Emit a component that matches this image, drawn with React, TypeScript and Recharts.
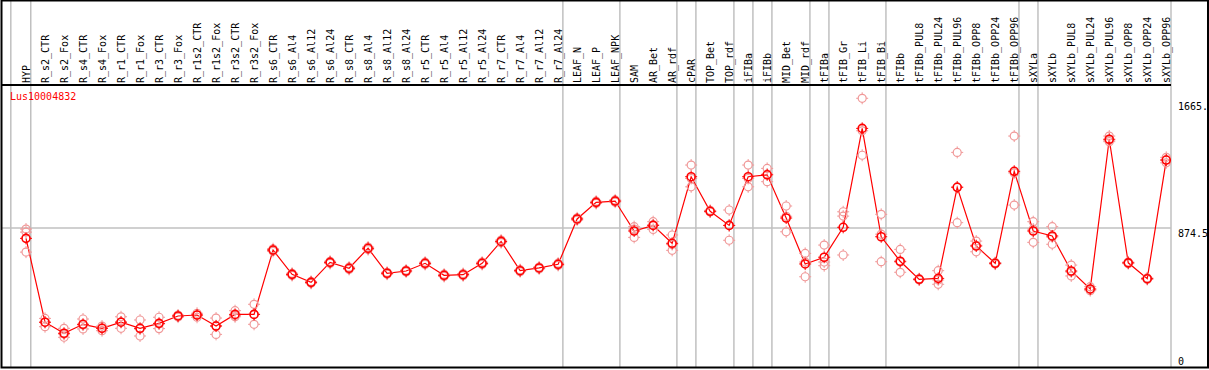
import React from 'react';
import { ComposedChart, Line, XAxis, YAxis, ReferenceLine } from 'recharts';

// sample labels, left to right
const samples = [
  'HYP', 'R_s2_CTR', 'R_s2_Fox', 'R_s4_CTR', 'R_s4_Fox', 'R_r1_CTR', 'R_r1_Fox', 'R_r3_CTR', 'R_r3_Fox',
  'R_r1s2_CTR', 'R_r1s2_Fox', 'R_r3s2_CTR', 'R_r3s2_Fox', 'R_s6_CTR', 'R_s6_Al4', 'R_s6_Al12', 'R_s6_Al24',
  'R_s8_CTR', 'R_s8_Al4', 'R_s8_Al12', 'R_s8_Al24', 'R_r5_CTR', 'R_r5_Al4', 'R_r5_Al12', 'R_r5_Al24',
  'R_r7_CTR', 'R_r7_Al4', 'R_r7_Al12', 'R_r7_Al24', 'LEAF_N', 'LEAF_P', 'LEAF_NPK', 'SAM', 'AR_Bet', 'AR_rdf',
  'cPAR', 'TOP_Bet', 'TOP_rdf', 'iFIBa', 'iFIBb', 'MID_Bet', 'MID_rdf', 'tFIBa', 'tFIB_Gr', 'tFIB_Li', 'tFIB_Bi',
  'tFIBb', 'tFIBb_PUL8', 'tFIBb_PUL24', 'tFIBb_PUL96', 'tFIBb_OPP8', 'tFIBb_OPP24', 'tFIBb_OPP96',
  'sXYLa', 'sXYLb', 'sXYLb_PUL8', 'sXYLb_PUL24', 'sXYLb_PUL96', 'sXYLb_OPP8', 'sXYLb_OPP24', 'sXYLb_OPP96',
];

// mean expression per sample
const meanVals = [
  810, 286, 217, 273, 248, 286, 248, 279, 325, 331, 262, 335, 335,
  737, 585, 535, 660, 623, 748, 592, 606, 654, 579, 583, 654, 791, 608, 625, 648,
  931, 1035, 1043, 856, 891, 779, 1195, 979, 891, 1195, 1207, 937, 650, 692, 879, 1497, 820,
  667, 554, 560, 1129, 762, 654, 1229, 856, 825, 606, 494, 1429, 657, 558, 1299,
];

// replicates
const rep1 = [
  868, 310, 248, 306, 262, 320, 300, 317, 331, 342, 312, 358, 398,
  745, 592, 541, 667, 630, 756, 598, 612, 661, 586, 590, 661, 799, 614, 631, 655,
  938, 1042, 1050, 883, 914, 831, 1268, 985, 987, 1268, 1247, 1012, 716, 768, 976, 1685, 960,
  741, 558, 608, 1347, 793, 659, 1449, 914, 883, 643, 508, 1449, 662, 563, 1316,
];
const rep2 = [
  849, 286, 212, 269, 249, 288, 244, 275, 325, 331, 264, 328, 335,
  737, 585, 535, 660, 623, 748, 592, 606, 654, 579, 583, 654, 791, 608, 625, 648,
  931, 1035, 1043, 868, 894, 771, 1184, 977, 890, 1184, 1211, 948, 662, 662, 949, 1482, 836,
  662, 554, 550, 1131, 767, 654, 1219, 868, 818, 600, 490, 1423, 657, 558, 1300,
];
const rep3 = [
  724, 258, 192, 244, 233, 248, 200, 246, 318, 317, 210, 320, 273,
  729, 578, 529, 653, 616, 740, 586, 600, 647, 572, 576, 647, 783, 602, 619, 641,
  924, 1028, 1036, 816, 866, 735, 1132, 975, 798, 1132, 1164, 851, 570, 639, 706, 1329, 664,
  598, 550, 523, 908, 726, 649, 1018, 785, 773, 575, 483, 1414, 652, 553, 1282,
];

// group separators (in sample index units)
const separators = [-0.8, 0.25, 28.25, 31.25, 34.25, 35.25, 37.25, 38.25, 39.25, 41.25, 42.25, 45.25, 52.25, 53.25, 60.25];

const yTicks = [0, 874.5, 1665];
const yTickLabels = ['0', '874.5', '1665.'];

const geneName = 'Lus10004832';

const data = samples.map((name, i) => ({
  i,
  name,
  mean: meanVals[i],
  r1: rep1[i],
  r2: rep2[i],
  r3: rep3[i],
}));

const FONT = '"DejaVu Sans Mono", monospace';

const Marker = ({ cx, cy, color, w }: any) => {
  if (cx == null || cy == null) return null;
  return (
    <g>
      <circle cx={cx} cy={cy} r={4} fill="none" stroke={color} strokeWidth={w} />
      <line x1={cx} y1={cy - 6} x2={cx} y2={cy - 4} stroke={color} strokeWidth={1} />
      <line x1={cx} y1={cy + 4} x2={cx} y2={cy + 6} stroke={color} strokeWidth={1} />
      <line x1={cx - 6} y1={cy} x2={cx - 4} y2={cy} stroke={color} strokeWidth={1} />
      <line x1={cx + 4} y1={cy} x2={cx + 6} y2={cy} stroke={color} strokeWidth={1} />
    </g>
  );
};

const repDot = (p: any) => <Marker key={`r${p.index}`} cx={p.cx} cy={p.cy} color="#f09898" w={1.2} />;
const meanDot = (p: any) => <Marker key={`m${p.index}`} cx={p.cx} cy={p.cy} color="#ff0000" w={1.6} />;

const HeaderTick = (props: any) => {
  const { x, payload } = props;
  return (
    <text
      transform={`translate(${x + 4},83) rotate(-90)`}
      textAnchor="start"
      fontFamily={FONT}
      fontSize={10}
      fill="#000"
    >
      {samples[payload.value]}
    </text>
  );
};

// value labels sit just right of the plot, under their level
const ValueTick = (props: any) => {
  const { y, payload } = props;
  const idx = yTicks.indexOf(payload.value);
  const baseY = payload.value === 0 ? y - 3 : y + 9;
  return (
    <text x={1178} y={baseY} textAnchor="start" fontFamily={FONT} fontSize={10} fill="#000">
      {yTickLabels[idx]}
    </text>
  );
};

const App: React.FC = () => {
  return (
    <div style={{ position: 'absolute', left: 0, top: 0, width: 1209, height: 370, background: '#fff' }}>
      <ComposedChart width={1209} height={370} data={data} margin={{ top: 0, right: 0, left: 1, bottom: 2 }}>
        <XAxis
          xAxisId="x"
          dataKey="i"
          type="number"
          orientation="top"
          height={85}
          domain={[-1.316, 60.25]}
          ticks={samples.map((_, i) => i)}
          interval={0}
          tick={<HeaderTick />}
          tickLine={false}
          axisLine={{ stroke: '#000', strokeWidth: 2 }}
          allowDataOverflow
        />
        <YAxis
          yAxisId="y"
          orientation="right"
          width={38}
          domain={[0, 1768]}
          ticks={yTicks}
          interval={0}
          tick={<ValueTick />}
          tickLine={false}
          axisLine={false}
          allowDataOverflow
        />
        <ReferenceLine xAxisId="x" yAxisId="y" y={874.5} stroke="#c0c0c0" strokeWidth={1.5} />
        {separators.map((s) => (
          <ReferenceLine
            key={s}
            xAxisId="x"
            yAxisId="y"
            segment={[{ x: s, y: 0 }, { x: s, y: 2300 }]}
            ifOverflow="visible"
            stroke="#c0c0c0"
            strokeWidth={1.5}
          />
        ))}
        <Line xAxisId="x" yAxisId="y" dataKey="r1" stroke="none" dot={repDot} activeDot={false} isAnimationActive={false} />
        <Line xAxisId="x" yAxisId="y" dataKey="r2" stroke="none" dot={repDot} activeDot={false} isAnimationActive={false} />
        <Line xAxisId="x" yAxisId="y" dataKey="r3" stroke="none" dot={repDot} activeDot={false} isAnimationActive={false} />
        <Line
          xAxisId="x"
          yAxisId="y"
          type="linear"
          dataKey="mean"
          stroke="#ff0000"
          strokeWidth={1.2}
          dot={meanDot}
          activeDot={false}
          isAnimationActive={false}
        />
      </ComposedChart>
      <div
        style={{
          position: 'absolute',
          left: 10,
          top: 91,
          fontFamily: FONT,
          fontSize: 10,
          color: '#ff0000',
          lineHeight: '12px',
        }}
      >
        {geneName}
      </div>
      <svg width={1209} height={370} style={{ position: 'absolute', left: 0, top: 0, pointerEvents: 'none' }}>
        <rect x={1.5} y={0.5} width={1206.5} height={367} fill="none" stroke="#000" strokeWidth={2} />
      </svg>
    </div>
  );
};

export default App;
